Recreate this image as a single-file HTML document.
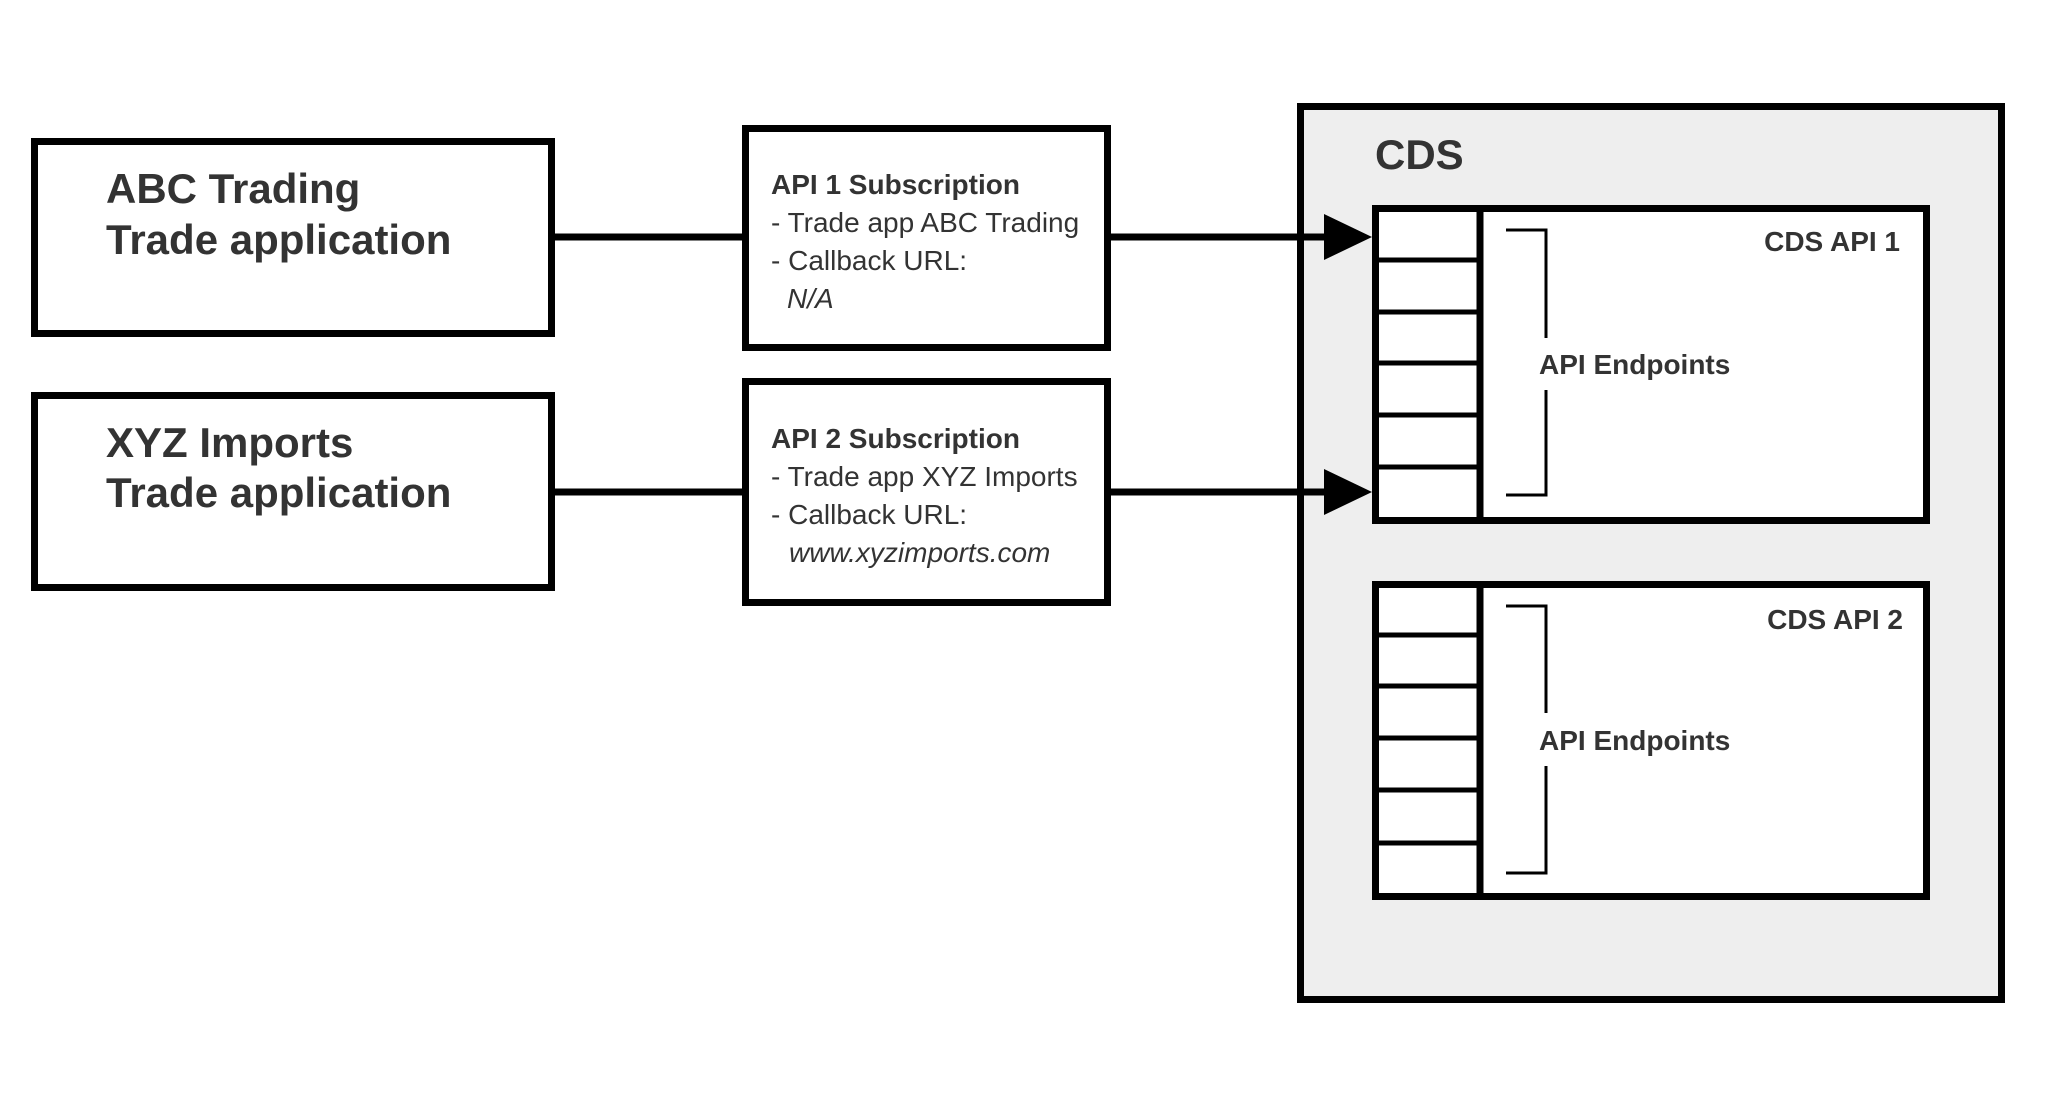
<!DOCTYPE html>
<html><head><meta charset="utf-8"><style>
html,body{margin:0;padding:0;background:#fff;}
svg{display:block;}
text{font-family:"Liberation Sans",Arial,sans-serif;fill:#333;}
.b{font-weight:bold;}
</style></head><body>
<svg width="2048" height="1104" viewBox="0 0 2048 1104" xmlns="http://www.w3.org/2000/svg">
<rect x="0" y="0" width="2048" height="1104" fill="#fff"/>
<rect x="1300.5" y="106.5" width="701" height="893" fill="#eeeeee" stroke="#000" stroke-width="7"/>
<text x="1375" y="169" class="b" font-size="42">CDS</text>

<rect x="34.5" y="141.5" width="517" height="192" fill="#fff" stroke="#000" stroke-width="7"/>
<text x="106" y="203" class="b" font-size="42">ABC Trading</text>
<text x="106" y="254" class="b" font-size="42">Trade application</text>
<rect x="34.5" y="395.5" width="517" height="192" fill="#fff" stroke="#000" stroke-width="7"/>
<text x="106" y="457" class="b" font-size="42">XYZ Imports</text>
<text x="106" y="507" class="b" font-size="42">Trade application</text>

<line x1="551" y1="237" x2="746" y2="237" stroke="#000" stroke-width="7"/>
<line x1="551" y1="492" x2="746" y2="492" stroke="#000" stroke-width="7"/>
<line x1="1108" y1="237" x2="1330" y2="237" stroke="#000" stroke-width="7"/>
<line x1="1108" y1="492" x2="1330" y2="492" stroke="#000" stroke-width="7"/>
<polygon points="1324,214 1372,237 1324,260" fill="#000"/>
<polygon points="1324,469 1372,492 1324,515" fill="#000"/>

<rect x="745.5" y="128.5" width="362" height="219" fill="#fff" stroke="#000" stroke-width="7"/>
<text x="771" y="194" class="b" font-size="28">API 1 Subscription</text>
<text x="771" y="232" font-size="28">- Trade app ABC Trading</text>
<text x="771" y="270" font-size="28">- Callback URL:</text>
<text x="787" y="308" font-size="28" font-style="italic">N/A</text>

<rect x="745.5" y="381.5" width="362" height="221" fill="#fff" stroke="#000" stroke-width="7"/>
<text x="771" y="448" class="b" font-size="28">API 2 Subscription</text>
<text x="771" y="486" font-size="28">- Trade app XYZ Imports</text>
<text x="771" y="524" font-size="28">- Callback URL:</text>
<text x="789" y="562" font-size="28" font-style="italic">www.xyzimports.com</text>

<rect x="1375.5" y="208.5" width="551" height="312" fill="#fff" stroke="#000" stroke-width="7"/>
<line x1="1480" y1="208" x2="1480" y2="520" stroke="#000" stroke-width="7"/>
<g stroke="#000" stroke-width="5">
<line x1="1376" y1="260" x2="1480" y2="260"/>
<line x1="1376" y1="312" x2="1480" y2="312"/>
<line x1="1376" y1="363" x2="1480" y2="363"/>
<line x1="1376" y1="415" x2="1480" y2="415"/>
<line x1="1376" y1="467" x2="1480" y2="467"/>
</g>
<polyline points="1506,230 1546,230 1546,338" fill="none" stroke="#000" stroke-width="3"/>
<polyline points="1506,495 1546,495 1546,390" fill="none" stroke="#000" stroke-width="3"/>
<text x="1539" y="374" class="b" font-size="28">API Endpoints</text>
<text x="1900" y="251" class="b" font-size="28" text-anchor="end">CDS API 1</text>

<rect x="1375.5" y="584.5" width="551" height="312" fill="#fff" stroke="#000" stroke-width="7"/>
<line x1="1480" y1="584" x2="1480" y2="896" stroke="#000" stroke-width="7"/>
<g stroke="#000" stroke-width="5">
<line x1="1376" y1="635" x2="1480" y2="635"/>
<line x1="1376" y1="686" x2="1480" y2="686"/>
<line x1="1376" y1="738" x2="1480" y2="738"/>
<line x1="1376" y1="790" x2="1480" y2="790"/>
<line x1="1376" y1="843" x2="1480" y2="843"/>
</g>
<polyline points="1506,606 1546,606 1546,713" fill="none" stroke="#000" stroke-width="3"/>
<polyline points="1506,873 1546,873 1546,766" fill="none" stroke="#000" stroke-width="3"/>
<text x="1539" y="750" class="b" font-size="28">API Endpoints</text>
<text x="1903" y="629" class="b" font-size="28" text-anchor="end">CDS API 2</text>
</svg>
</body></html>
